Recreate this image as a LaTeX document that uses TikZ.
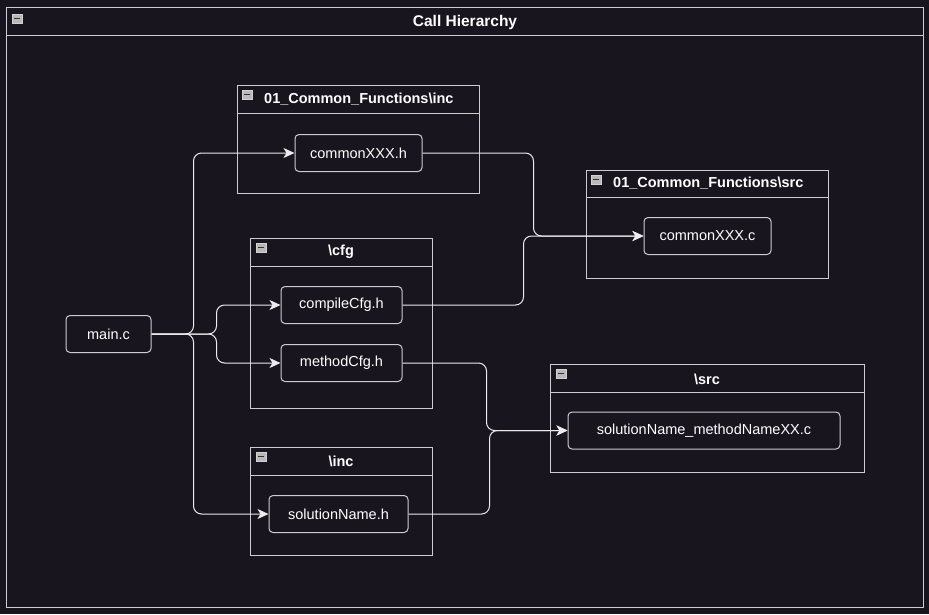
\documentclass[tikz,border=0pt]{standalone}
\usepackage{fontspec}
\setmainfont{Liberation Sans}
\usetikzlibrary{arrows.meta}
\definecolor{bgdark}{RGB}{24,21,30}
\definecolor{frameline}{RGB}{205,205,205}
\definecolor{linkline}{RGB}{236,236,236}
\begin{document}
\begin{tikzpicture}[x=1pt,y=-1pt,
    frame/.style={draw=frameline, line width=1pt},
    filebox/.style={draw=frameline, line width=1pt, rounded corners=4pt, text=white, minimum height=37pt, inner sep=0pt, font=\fontsize{14.5}{16}\selectfont},
    foldertitle/.style={text=white, inner sep=0pt, font=\fontsize{14.5}{16}\selectfont\bfseries},
    link/.style={draw=linkline, line width=1pt, rounded corners=8pt, -{Stealth[length=11pt,width=10pt,inset=3pt]}},
    minus/.style={fill=gray!55, draw=gray!35}]
                    % \helpgrid{3}{3}
                    \fill [bgdark] (0,0) rectangle (929,614);

                    % outer frame
                    \draw [frame] (6,7) rectangle (923,607); \draw [frame] (6,35) -- (923,35);
                    \draw [minus] (12,14) rectangle (22,23); \draw [black!80, line width=1.5pt] (14,18.5) -- (20,18.5);
                    \node (title) at (465,22) [foldertitle, font=\fontsize{15.5}{17}\selectfont\bfseries] {Call Hierarchy};

                    % 01_Common_Functions\inc
                    \draw [frame] (237,85) rectangle (479,193); \draw [frame] (237,113) -- (479,113);
                    \draw [minus] (242,90) rectangle (252,99); \draw [black!80, line width=1.5pt] (244,94.5) -- (250,94.5);
                    \node (tcinc) at (264,99) [foldertitle, anchor=west] {01\_Common\_Functions\textbackslash inc};

                    % 01_Common_Functions\src
                    \draw [frame] (586,170) rectangle (828,278); \draw [frame] (586,197) -- (828,197);
                    \draw [minus] (591,175) rectangle (601,184); \draw [black!80, line width=1.5pt] (593,179.5) -- (599,179.5);
                    \node (tcsrc) at (613,183) [foldertitle, anchor=west] {01\_Common\_Functions\textbackslash src};

                    % \cfg
                    \draw [frame] (250,238) rectangle (432,408); \draw [frame] (250,266) -- (432,266);
                    \draw [minus] (256,243) rectangle (266,252); \draw [black!80, line width=1.5pt] (258,247.5) -- (264,247.5);
                    \node (tcfg) at (341,252) [foldertitle] {\textbackslash cfg};

                    % \inc
                    \draw [frame] (250,447) rectangle (432,555); \draw [frame] (250,475) -- (432,475);
                    \draw [minus] (256,452) rectangle (266,461); \draw [black!80, line width=1.5pt] (258,456.5) -- (264,456.5);
                    \node (tinc) at (341,461) [foldertitle] {\textbackslash inc};

                    % \src
                    \draw [frame] (550,364) rectangle (864,472); \draw [frame] (550,392) -- (864,392);
                    \draw [minus] (556,369) rectangle (566,378); \draw [black!80, line width=1.5pt] (558,373.5) -- (564,373.5);
                    \node (tsrc) at (707,379) [foldertitle] {\textbackslash src};

                    % files
                    \node (mainc) at (108.5,334) [filebox, minimum width=85pt] {main.c};
                    \node (cxh) at (358.5,153) [filebox, minimum width=127pt] {commonXXX.h};
                    \node (cxc) at (707.5,236) [filebox, minimum width=127pt] {commonXXX.c};
                    \node (ccfg) at (341.5,305) [filebox, minimum width=121pt] {compileCfg.h};
                    \node (mcfg) at (341.5,363) [filebox, minimum width=121pt] {methodCfg.h};
                    \node (solh) at (338.5,514) [filebox, minimum width=139pt] {solutionName.h};
                    \node (solc) at (704,430.5) [filebox, minimum width=272pt] {solutionName\_methodNameXX.c};

                    % calls
                    \draw [link] (mainc.east) -- ++(42,0) |- (cxh.west);
                    \draw [link] (mainc.east) -- ++(65,0) |- (ccfg.west);
                    \draw [link] (mainc.east) -- ++(65,0) |- (mcfg.west);
                    \draw [link] (mainc.east) -- ++(42,0) |- (solh.west);
                    \draw [link] (cxh.east) -- ++(111,0) |- (cxc.west);
                    \draw [link] (ccfg.east) -- ++(121,0) |- (cxc.west);
                    \draw [link] (mcfg.east) -- ++(84,0) |- (solc.west);
                    \draw [link] (solh.east) -- ++(81,0) |- (solc.west);
\end{tikzpicture}
\end{document}
